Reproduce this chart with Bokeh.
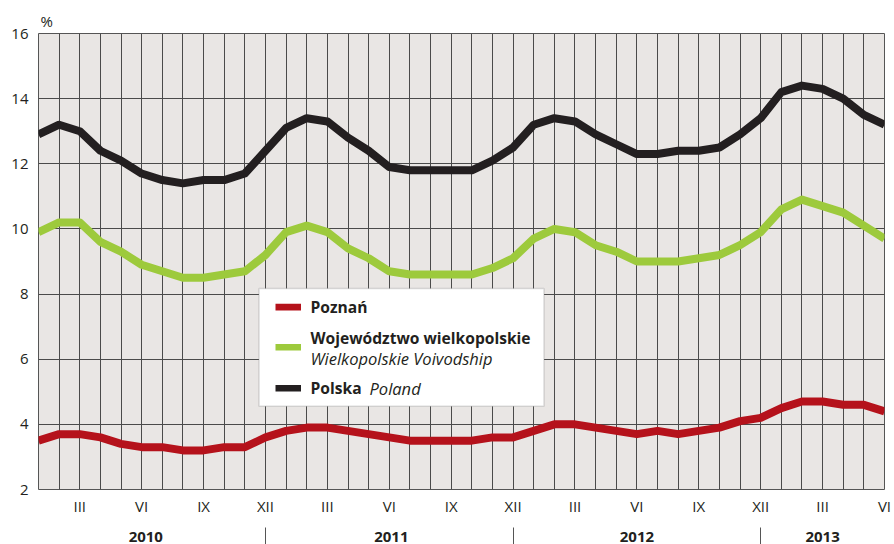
from bokeh.plotting import figure
from bokeh.models import Range1d, FixedTicker, Label, BoxAnnotation, LinearAxis, Title
from bokeh.embed import file_html
from bokeh.resources import INLINE

# ---------------- data ----------------
months = list(range(42))  # Jan 2010 .. Jun 2013
poznan = [3.5, 3.7, 3.7, 3.6, 3.4, 3.3, 3.3, 3.2, 3.2, 3.3, 3.3, 3.6,
          3.8, 3.9, 3.9, 3.8, 3.7, 3.6, 3.5, 3.5, 3.5, 3.5, 3.6, 3.6,
          3.8, 4.0, 4.0, 3.9, 3.8, 3.7, 3.8, 3.7, 3.8, 3.9, 4.1, 4.2,
          4.5, 4.7, 4.7, 4.6, 4.6, 4.4]
wojewodztwo = [9.9, 10.2, 10.2, 9.6, 9.3, 8.9, 8.7, 8.5, 8.5, 8.6, 8.7, 9.2,
               9.9, 10.1, 9.9, 9.4, 9.1, 8.7, 8.6, 8.6, 8.6, 8.6, 8.8, 9.1,
               9.7, 10.0, 9.9, 9.5, 9.3, 9.0, 9.0, 9.0, 9.1, 9.2, 9.5, 9.9,
               10.6, 10.9, 10.7, 10.5, 10.1, 9.7]
polska = [12.9, 13.2, 13.0, 12.4, 12.1, 11.7, 11.5, 11.4, 11.5, 11.5, 11.7, 12.4,
          13.1, 13.4, 13.3, 12.8, 12.4, 11.9, 11.8, 11.8, 11.8, 11.8, 12.1, 12.5,
          13.2, 13.4, 13.3, 12.9, 12.6, 12.3, 12.3, 12.4, 12.4, 12.5, 12.9, 13.4,
          14.2, 14.4, 14.3, 14.0, 13.5, 13.2]
month_tick_pos = [2, 5, 8, 11, 14, 17, 20, 23, 26, 29, 32, 35, 38, 41]
month_tick_labels = ["III", "VI", "IX", "XII", "III", "VI", "IX", "XII",
                     "III", "VI", "IX", "XII", "III", "VI"]
years = ["2010", "2011", "2012", "2013"]
year_centers = [5.2, 17.1, 29.0, 38.0]
year_breaks = [11, 23, 35]
y_ticks = [2, 4, 6, 8, 10, 12, 14, 16]

series_names = ["Poznań", "Województwo wielkopolskie", "Polska"]
series_sub = ["", "Wielkopolskie Voivodship", "Poland"]

# ---------------- style ----------------
FONT = "Open Sans"
TXT = "#231f20"
RED = "#b5121b"
GREEN = "#9dca3c"
BLACK = "#231f20"
BG = "#e9e6e4"
GRID = "#4a4a4a"

# frame geometry in canvas pixels (for placing legend annotations)
FX0, FX1, FY0, FY1 = 38.0, 884.0, 33.0, 488.0
XMIN, XMAX, YMIN, YMAX = 0, 41, 2, 16


def px_x(px):
    return XMIN + (px - FX0) / (FX1 - FX0) * (XMAX - XMIN)


def px_y(py):
    return YMAX - (py - FY0) / (FY1 - FY0) * (YMAX - YMIN)


p = figure(width=894, height=544, output_backend="svg", toolbar_location=None,
           x_range=Range1d(XMIN, XMAX), y_range=Range1d(YMIN, YMAX),
           min_border_left=38, min_border_right=10, min_border_top=33,
           min_border_bottom=20)

p.background_fill_color = BG
p.border_fill_color = "white"
p.outline_line_color = "#555555"
p.outline_line_width = 1

# "%" unit as title
p.title = Title(text="%", align="left", offset=2, standoff=6,
                text_font=FONT, text_font_size="15px",
                text_font_style="normal", text_color=TXT)

# grids
p.xgrid.ticker = FixedTicker(ticks=months)
p.ygrid.ticker = FixedTicker(ticks=y_ticks)
for g in (p.xgrid, p.ygrid):
    g.grid_line_color = GRID
    g.grid_line_width = 1
    g.grid_line_alpha = 1

# axes
p.yaxis.ticker = FixedTicker(ticks=y_ticks)
p.xaxis.ticker = FixedTicker(ticks=month_tick_pos)
p.xaxis.major_label_overrides = {t: l for t, l in zip(month_tick_pos, month_tick_labels)}
for ax in (p.xaxis, p.yaxis):
    ax.axis_line_color = None
    ax.major_tick_line_color = None
    ax.minor_tick_line_color = None
    ax.major_tick_out = 0
    ax.major_tick_in = 0
    ax.minor_tick_out = 0
    ax.minor_tick_in = 0
    ax.major_label_text_font = FONT
    ax.major_label_text_font_size = "15px"
    ax.major_label_text_color = TXT
p.yaxis.major_label_standoff = 10
p.xaxis.major_label_standoff = 6

# year axis: bold year labels, separators as minor ticks
yax = LinearAxis(ticker=FixedTicker(ticks=year_centers, minor_ticks=year_breaks))
yax.major_label_overrides = {c: y for c, y in zip(year_centers, years)}
yax.axis_line_color = None
yax.major_tick_line_color = None
yax.major_tick_out = 0
yax.major_tick_in = 0
yax.minor_tick_line_color = "#555555"
yax.minor_tick_line_width = 1
yax.minor_tick_in = -9
yax.minor_tick_out = 32
yax.major_label_standoff = -19
yax.major_label_text_font = FONT
yax.major_label_text_font_size = "15px"
yax.major_label_text_font_style = "bold"
yax.major_label_text_color = TXT
p.add_layout(yax, "below")

# series lines
for ys, col in ((poznan, RED), (wojewodztwo, GREEN), (polska, BLACK)):
    p.line(months, ys, line_width=8, line_color=col, line_join="round")

# legend box
p.add_layout(BoxAnnotation(left=px_x(258.5), right=px_x(543.5),
                           top=px_y(287.5), bottom=px_y(405),
                           fill_color="white", fill_alpha=1,
                           line_color="#8a8a8a", line_width=1.5, level="overlay"))

sw_y = [306, 346, 387]
name_y = [306, 337, 387]
sub_pos = [None, (310, 357), (369, 387)]
for col, sy, ny, name, sub, sp in zip((RED, GREEN, BLACK), sw_y, name_y,
                                      series_names, series_sub, sub_pos):
    p.add_layout(BoxAnnotation(left=px_x(275), right=px_x(300.5),
                               top=px_y(sy - 3.3), bottom=px_y(sy + 3.3),
                               fill_color=col, fill_alpha=1, line_color=None,
                               level="overlay"))
    p.add_layout(Label(x=px_x(310), y=px_y(ny), text=name, text_font=FONT,
                       text_font_size="15.6px", text_font_style="bold",
                       text_color=TXT, text_align="left",
                       text_baseline="middle", level="overlay"))
    if sub:
        p.add_layout(Label(x=px_x(sp[0]), y=px_y(sp[1]), text=sub,
                           text_font=FONT, text_font_size="16.5px",
                           text_font_style="italic", text_color=TXT,
                           text_align="left", text_baseline="middle",
                           level="overlay"))

open("out.html", "w").write(file_html(p, INLINE))
